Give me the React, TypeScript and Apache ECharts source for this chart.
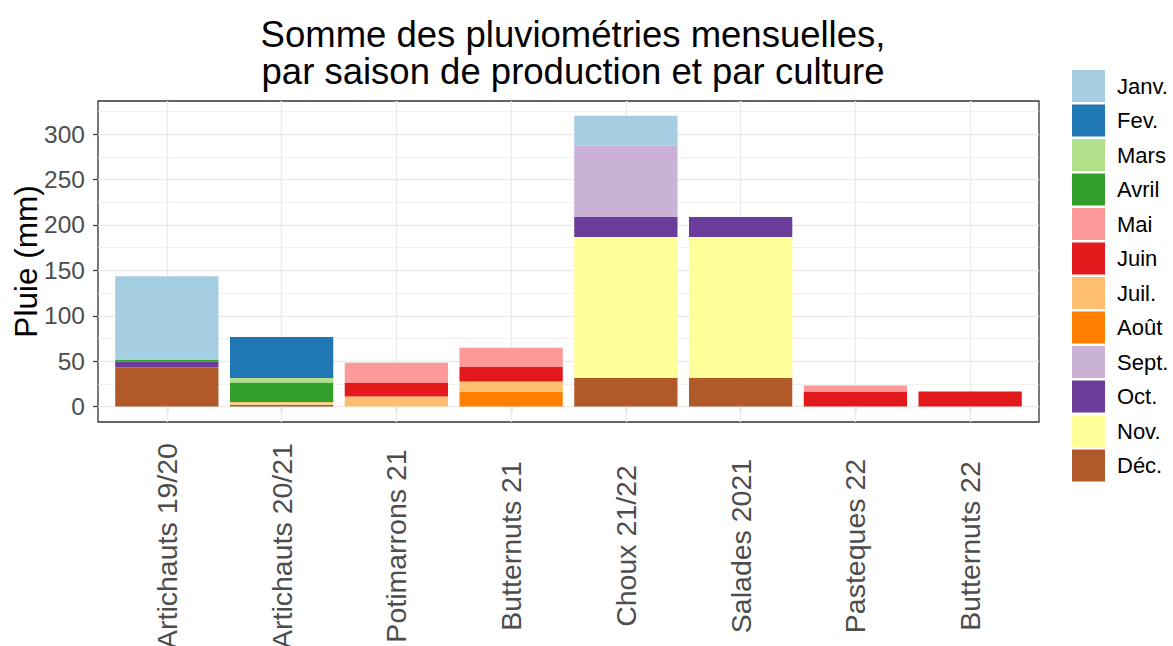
import React, { useEffect, useRef } from "react";
import * as echarts from "echarts";

const categories = [
  "Artichauts 19/20",
  "Artichauts 20/21",
  "Potimarrons 21",
  "Butternuts 21",
  "Choux 21/22",
  "Salades 2021",
  "Pasteques 22",
  "Butternuts 22",
];

const months = ["Janv.", "Fev.", "Mars", "Avril", "Mai", "Juin", "Juil.", "Août", "Sept.", "Oct.", "Nov.", "Déc."];

const janv = [92, 0, 0, 0, 33.1, 0, 0, 0];
const fev = [0, 45.3, 0, 0, 0, 0, 0, 0];
const mars = [0, 4.8, 0, 0, 0, 0, 0, 0];
const avril = [2.2, 21.7, 0, 0, 0, 0, 0, 0];
const mai = [0, 0, 21.8, 21.3, 0, 0, 6.6, 0];
const juin = [0, 0, 15.5, 15.9, 0, 0, 16.6, 16.6];
const juil = [0, 1.5, 11, 11.4, 0, 0, 0, 0];
const aout = [0, 0, 0, 16.2, 0, 0, 0, 0];
const sept = [0, 0, 0, 0, 78.4, 0, 0, 0];
const oct = [6.3, 0, 0, 0, 22.1, 22.1, 0, 0];
const nov = [0, 1.2, 0, 0, 154.9, 154.9, 0, 0];
const dec = [43.1, 2.2, 0, 0, 31.7, 31.7, 0, 0];

const monthValues = [janv, fev, mars, avril, mai, juin, juil, aout, sept, oct, nov, dec];

const colors = [
  "#A6CEE3", "#1F78B4", "#B2DF8A", "#33A02C", "#FB9A99", "#E31A1C",
  "#FDBF6F", "#FF7F00", "#CAB2D6", "#6A3D9A", "#FFFF99", "#B15928",
];

const yTicks = [0, 50, 100, 150, 200, 250, 300];
const yMinor = [25, 75, 125, 175, 225, 275, 325];

const FONT = "'Liberation Sans', Arial, sans-serif";

const Y_MIN = -17;
const Y_MAX = 336.5;

// panel geometry
const P_LEFT = 98;
const P_RIGHT = 134;
const P_TOP = 101;
const P_BOTTOM = 224;
const UNIT = (1173 - P_LEFT - P_RIGHT) / 8.2;
const INSET = 0.1 * UNIT;

export default function App() {
  const ref = useRef<HTMLDivElement>(null);
  useEffect(() => {
    if (!ref.current) return;
    const chart = echarts.init(ref.current, undefined, { renderer: "svg" });
    const xPos = categories.map((_, i) => i + 1);

    const barSeries = months
      .map((m, k) => ({
        name: m,
        type: "bar",
        stack: "total",
        barWidth: "90%",
        xAxisIndex: 1,
        yAxisIndex: 1,
        z: 3,
        itemStyle: { color: colors[k] },
        data: monthValues[k],
      }))
      .reverse();

    const gridSeries = {
      name: "grid",
      type: "line",
      xAxisIndex: 0,
      yAxisIndex: 0,
      data: [],
      z: 1,
      silent: true,
      markLine: {
        silent: true,
        z: 1,
        symbol: "none",
        label: { show: false },
        animation: false,
        data: [
          ...yMinor.map((v) => ({ yAxis: v, lineStyle: { color: "#ebebeb", width: 0.7, type: "solid" } })),
          ...yTicks.map((v) => ({ yAxis: v, lineStyle: { color: "#ebebeb", width: 1.4, type: "solid" } })),
          ...xPos.map((v) => ({ xAxis: v, lineStyle: { color: "#ebebeb", width: 1.4, type: "solid" } })),
        ],
      },
    };

    chart.setOption({
      animation: false,
      textStyle: { fontFamily: FONT },
      title: {
        text: "Somme des pluviométries mensuelles,\npar saison de production et par culture",
        left: 568,
        top: 11,
        textAlign: "center",
        textStyle: {
          fontFamily: FONT,
          fontSize: 36.5,
          fontWeight: "normal",
          color: "#000",
          lineHeight: 37,
        },
      },
      legend: {
        orient: "vertical",
        left: 1072,
        top: 70,
        padding: 0,
        itemWidth: 33,
        itemHeight: 32,
        itemGap: 2.5,
        icon: "rect",
        data: months,
        textStyle: { fontFamily: FONT, fontSize: 22, color: "#000", padding: [0, 0, 0, 7] },
      },
      grid: [
        {
          left: P_LEFT,
          right: P_RIGHT,
          top: P_TOP,
          bottom: P_BOTTOM,
          show: true,
          borderColor: "#333",
          borderWidth: 1.3,
          backgroundColor: "#fff",
          containLabel: false,
          outerBoundsMode: "none",
        },
        {
          left: P_LEFT + INSET,
          right: P_RIGHT + INSET,
          top: P_TOP,
          bottom: P_BOTTOM,
          show: false,
          containLabel: false,
          outerBoundsMode: "none",
        },
      ],
      xAxis: [
        {
          gridIndex: 0,
          type: "value",
          min: 0.4,
          max: 8.6,
          show: false,
          splitLine: { show: false },
        },
        {
          gridIndex: 1,
          type: "category",
          data: categories,
          boundaryGap: true,
          splitLine: { show: false },
          axisLine: { show: false },
          axisTick: { show: true, alignWithLabel: true, length: 5, lineStyle: { color: "#333", width: 1.2 } },
          axisLabel: {
            interval: 0,
            rotate: 90,
            align: "center",
            margin: 124,
            fontFamily: FONT,
            fontSize: 28.5,
            color: "#4d4d4d",
          },
        },
      ],
      yAxis: [
        {
          gridIndex: 0,
          type: "value",
          min: Y_MIN,
          max: Y_MAX,
          name: "Pluie (mm)",
          nameLocation: "middle",
          nameGap: 56,
          nameMoveOverlap: false,
          nameTextStyle: { fontFamily: FONT, fontSize: 31.5, color: "#000" },
          splitLine: { show: false },
          axisLine: { show: false },
          axisTick: { show: true, length: 5, lineStyle: { color: "#333", width: 1.2 }, customValues: yTicks },
          axisLabel: {
            customValues: yTicks,
            margin: 13,
            fontFamily: FONT,
            fontSize: 24.5,
            color: "#4d4d4d",
          },
        },
        {
          gridIndex: 1,
          type: "value",
          min: Y_MIN,
          max: Y_MAX,
          show: false,
          splitLine: { show: false },
        },
      ],
      series: [gridSeries, ...barSeries],
    });
    return () => chart.dispose();
  }, []);
  return (
    <div
      ref={ref}
      style={{ position: "fixed", left: 0, top: 0, width: 1173, height: 646, background: "#fff" }}
    />
  );
}
